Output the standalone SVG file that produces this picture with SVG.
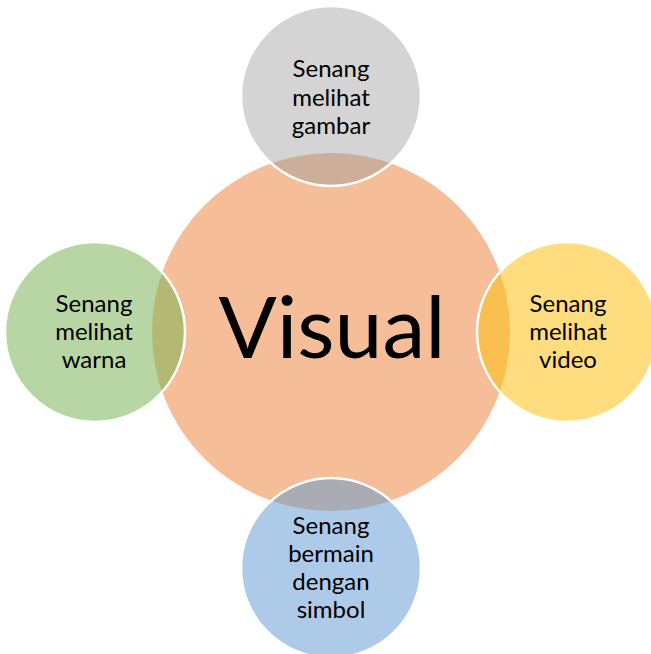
<svg xmlns="http://www.w3.org/2000/svg" width="651" height="654" viewBox="0 0 651 654">
  <style>
    .lbl { font-family: Lato, "Open Sans", "Liberation Sans", sans-serif; font-size: 24px; fill: #000; text-anchor: middle; }
    .big { font-family: Lato, "Open Sans", "Liberation Sans", sans-serif; font-size: 86px; fill: #000; text-anchor: middle; }
    .ring { fill: none; stroke: #FFFFFF; stroke-width: 2.5; }
  </style>
  <defs>
    <clipPath id="clipCenter">
      <circle cx="331" cy="332" r="179"/>
    </clipPath>
  </defs>
  <rect x="0" y="0" width="651" height="654" fill="#FFFFFF"/>
  <g id="center">
    <circle cx="331" cy="332" r="179" fill="#F5BD98"/>
    <text class="big" x="332" y="358">Visual</text>
  </g>
  <g id="connectors"></g>
  <g id="node-top">
    <circle cx="331" cy="96" r="90" fill="#D4D4D4"/>
    <circle cx="331" cy="96" r="90" fill="#CDAE9A" clip-path="url(#clipCenter)"/>
    <circle class="ring" cx="331" cy="96" r="90"/>
    <text class="lbl" x="331" y="77">Senang</text>
    <text class="lbl" x="331" y="106">melihat</text>
    <text class="lbl" x="331" y="134">gambar</text>
  </g>
  <g id="node-left">
    <circle cx="95" cy="332" r="90" fill="#B8D6A4"/>
    <circle cx="95" cy="332" r="90" fill="#B3B873" clip-path="url(#clipCenter)"/>
    <circle class="ring" cx="95" cy="332" r="90"/>
    <text class="lbl" x="94" y="312">Senang</text>
    <text class="lbl" x="94" y="340">melihat</text>
    <text class="lbl" x="94" y="368">warna</text>
  </g>
  <g id="node-right">
    <circle cx="567" cy="332" r="90" fill="#FFDC7E"/>
    <circle cx="567" cy="332" r="90" fill="#F9BF4F" clip-path="url(#clipCenter)"/>
    <circle class="ring" cx="567" cy="332" r="90"/>
    <text class="lbl" x="568" y="312">Senang</text>
    <text class="lbl" x="568" y="340">melihat</text>
    <text class="lbl" x="568" y="368">video</text>
  </g>
  <g id="node-bottom">
    <circle cx="331" cy="568" r="90" fill="#ADCBE9"/>
    <circle cx="331" cy="568" r="90" fill="#A9ABB5" clip-path="url(#clipCenter)"/>
    <circle class="ring" cx="331" cy="568" r="90"/>
    <text class="lbl" x="331" y="534">Senang</text>
    <text class="lbl" x="331" y="562">bermain</text>
    <text class="lbl" x="331" y="590">dengan</text>
    <text class="lbl" x="331" y="618">simbol</text>
  </g>
</svg>
